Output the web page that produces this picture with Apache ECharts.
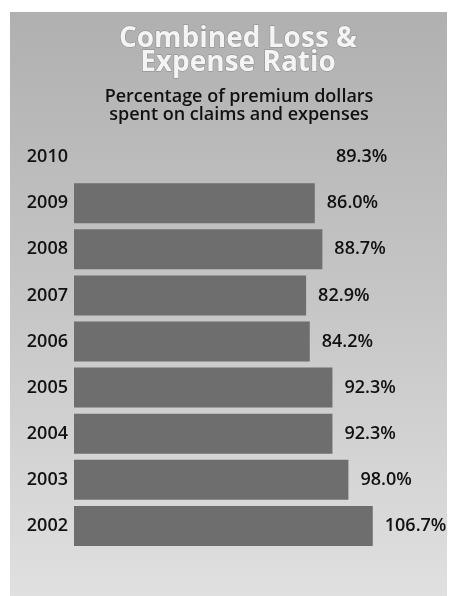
<!DOCTYPE html>
<html><head><meta charset="utf-8">
<script src="https://cdn.jsdelivr.net/npm/echarts@6/dist/echarts.min.js"></script>
<style>html,body{margin:0;padding:0;background:#fff}#c{width:452px;height:596px}</style>
</head><body><div id="c"></div>
<script>
const years = ['2010','2009','2008','2007','2006','2005','2004','2003','2002'];
const ratios = [89.3, 86.0, 88.7, 82.9, 84.2, 92.3, 92.3, 98.0, 106.7];
const titleLines = ['Combined Loss &', 'Expense Ratio'];
const subtitleLines = ['Percentage of premium dollars', 'spent on claims and expenses'];

const chart = echarts.init(document.getElementById('c'));
const font = 'Open Sans';
chart.setOption({
  animation: false,
  graphic: [{
    type: 'rect', z: -10, silent: true,
    shape: {x: 10, y: 12, width: 437, height: 584},
    style: {fill: new echarts.graphic.LinearGradient(0, 0, 0, 1, [
      {offset: 0, color: '#b0b0b0'},
      {offset: 0.5, color: '#c6c6c6'},
      {offset: 1, color: '#e0e0e0'}
    ])}
  }],
  title: [{
    text: titleLines.join('\n'), left: 233, top: 22, textAlign: 'center',
    textStyle: {color: '#f4f4f4', fontFamily: font, fontWeight: 700, fontSize: 28, lineHeight: 24,
      textBorderColor: '#8a8a8a', textBorderWidth: 1}
  }, {
    text: subtitleLines.join('\n'), left: 234, top: 83, textAlign: 'center',
    textStyle: {color: '#111', fontFamily: font, fontWeight: 600, fontSize: 18, lineHeight: 18}
  }],
  grid: {left: 74, right: 14, top: 134, bottom: 47, containLabel: false},
  xAxis: {type: 'value', min: 0, max: 130, show: false},
  yAxis: {
    type: 'category', data: years, inverse: true,
    axisLine: {show: false}, axisTick: {show: false}, splitLine: {show: false},
    axisLabel: {color: '#111', fontFamily: font, fontWeight: 600, fontSize: 18, margin: 6}
  },
  series: [{
    type: 'bar', barWidth: 40,
    data: ratios.map((v, i) => ({value: v, itemStyle: {color: i === 0 ? 'rgba(0,0,0,0)' : '#6e6e6e'}})),
    label: {show: true, position: 'right', distance: 12, formatter: p => p.value.toFixed(1) + '%',
      color: '#111', fontFamily: font, fontWeight: 600, fontSize: 18}
  }]
});
</script></body></html>
